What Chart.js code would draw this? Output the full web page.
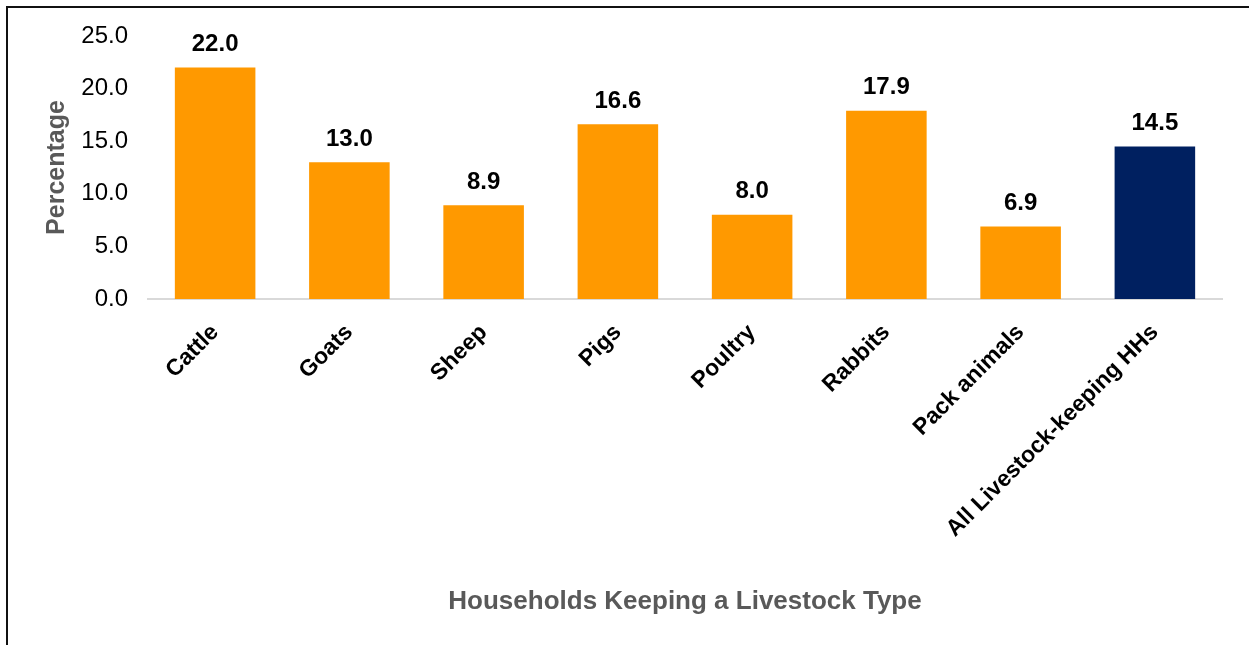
<!DOCTYPE html>
<html>
<head>
<meta charset="utf-8">
<script src="https://cdn.jsdelivr.net/npm/chart.js@4/dist/chart.umd.min.js"></script>
<style>
    html, body { margin: 0; padding: 0; background: #fff; }
    #wrap { position: relative; width: 1249px; height: 645px; overflow: hidden; }
    #frame { position: absolute; left: 6px; top: 6px; right: -10px; bottom: -10px; border-left: 2px solid #111; border-top: 2px solid #111; }
    #chart { position: absolute; left: 0; top: 0; }
</style>
</head>
<body>
<div id="wrap">
    <div id="frame"></div>
    <canvas id="chart" width="1249" height="645"></canvas>
</div>
<script>
var categories = ["Cattle", "Goats", "Sheep", "Pigs", "Poultry", "Rabbits", "Pack animals", "All Livestock-keeping HHs"];
var values = [22.0, 13.0, 8.9, 16.6, 8.0, 17.9, 6.9, 14.5];
var barColors = ["#FF9900", "#FF9900", "#FF9900", "#FF9900", "#FF9900", "#FF9900", "#FF9900", "#002060"];
var yTicks = [0, 5, 10, 15, 20, 25];

var fontName = "'Liberation Sans', Arial, sans-serif";

// labels above each bar
var valueLabels = {
    id: 'valueLabels',
    afterDatasetsDraw: (chart) => {
        var ctx = chart.ctx;
        var meta = chart.getDatasetMeta(0);
        ctx.save();
        ctx.font = "bold 24px " + fontName;
        ctx.fillStyle = "#000";
        ctx.textAlign = "center";
        ctx.textBaseline = "middle";
        for (var i = 0; i < meta.data.length; i++) {
            var bar = meta.data[i];
            ctx.fillText(values[i].toFixed(1), bar.x, bar.y - 23);
        }
        ctx.restore();
    }
};

var ctx = document.getElementById('chart').getContext('2d');
var chart = new Chart(ctx, {
    type: 'bar',
    data: {
        labels: categories,
        datasets: [{
            data: values,
            backgroundColor: barColors,
            borderWidth: 0,
            categoryPercentage: 1.0,
            barPercentage: 0.6
        }]
    },
    options: {
        responsive: false,
        animation: false,
        layout: { padding: { left: 0, right: 27, top: 36, bottom: 0 } },
        plugins: {
            legend: { display: false },
            tooltip: { enabled: false }
        },
        scales: {
            x: {
                grid: { display: false, drawTicks: false },
                border: { display: true, color: '#d9d9d9', width: 2 },
                ticks: {
                    color: '#000',
                    font: { family: fontName, size: 23, weight: 'bold' },
                    maxRotation: 45,
                    minRotation: 45,
                    padding: 20,
                    autoSkip: false
                },
                title: {
                    display: true,
                    text: 'Households Keeping a Livestock Type',
                    color: '#595959',
                    font: { family: fontName, size: 26, weight: 'bold' },
                    padding: { top: 0, bottom: 28 }
                },
                afterFit: (scale) => { scale.height = 346; }
            },
            y: {
                min: 0,
                max: 25,
                afterBuildTicks: (scale) => { scale.ticks = yTicks.map(v => ({ value: v })); },
                grid: { display: false, drawTicks: false },
                border: { display: false },
                ticks: {
                    color: '#000',
                    font: { family: fontName, size: 24 },
                    padding: 20,
                    callback: (v) => Number(v).toFixed(1)
                },
                title: {
                    display: true,
                    text: 'Percentage',
                    color: '#595959',
                    font: { family: fontName, size: 25, weight: 'bold' },
                    padding: { top: 42, bottom: 0 }
                },
                afterFit: (scale) => { scale.width = 148; }
            }
        }
    },
    plugins: [valueLabels]
});
</script>
</body>
</html>
